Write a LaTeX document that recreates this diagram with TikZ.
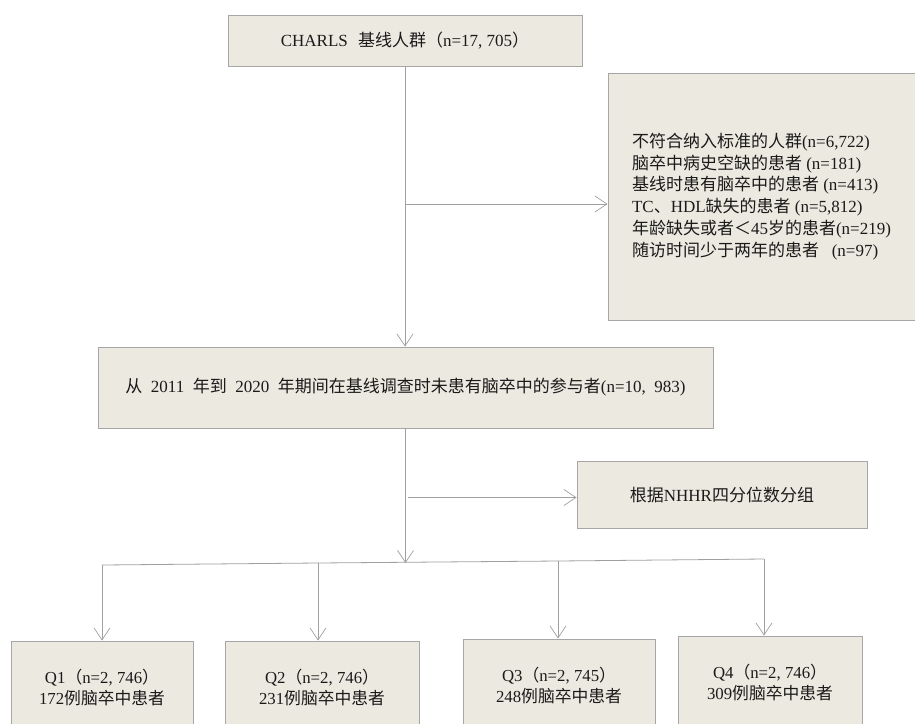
\documentclass[tikz,border=0pt]{standalone}
\usepackage{fontspec}
\setmainfont{Liberation Serif}
\newfontfamily\cjk{Noto Sans CJK SC}
\usetikzlibrary{arrows.meta}
\definecolor{boxfill}{HTML}{ECE9E0}
\definecolor{boxline}{HTML}{A6A6A6}
\definecolor{conn}{HTML}{A0A0A0}
\definecolor{txt}{HTML}{1A1A1A}
\tikzset{
  box/.style={draw=boxline, fill=boxfill, line width=0.9pt, inner sep=0pt, align=center, text=txt},
  conline/.style={draw=conn, line width=0.8pt},
  arr/.style={conline, -{Straight Barb[length=12pt,width=16pt,line width=0.7pt]}},
  bigfont/.style={font=\fontsize{17}{21.8}\selectfont},
  topfont/.style={font=\fontsize{17}{20}\selectfont},
  qfont/.style={font=\fontsize{16.8}{21}\selectfont}
}
\begin{document}
\begin{tikzpicture}[x=1pt,y=-1pt]
\useasboundingbox (0,0) rectangle (915,723);
\clip (0,0) rectangle (915,723);
\fill[white] (0,0) rectangle (915,723);

% boxes
\node[box, topfont, minimum width=354pt, minimum height=51pt] (top) at (405,40.5)
  {CHARLS\hspace{0.6em}{\cjk 基线人群（}n=17, 705{\cjk ）}};

\node[box, bigfont, align=left, minimum width=307pt, minimum height=247pt] (excl) at (761.5,196.5)
  {{\cjk 不符合纳入标准的人群}(n=6,722)\\
   {\cjk 脑卒中病史空缺的患者} (n=181)\\
   {\cjk 基线时患有脑卒中的患者} (n=413)\\
   TC{\cjk 、}HDL{\cjk 缺失的患者} (n=5,812)\\
   {\cjk 年龄缺失或者＜}45{\cjk 岁的患者}(n=219)\\
   {\cjk 随访时间少于两年的患者}\hspace{0.5em} (n=97)};

\node[box, bigfont, minimum width=615pt, minimum height=81pt] (mid) at (405.5,387.5)
  {{\cjk 从}\hspace{0.5em}2011\hspace{0.5em}{\cjk 年到}\hspace{0.5em}2020\hspace{0.5em}{\cjk 年期间在基线调查时未患有脑卒中的参与者}(n=10,\hspace{0.5em}983)};

\node[box, bigfont, minimum width=290pt, minimum height=67pt] (nhhr) at (722,494.5)
  {{\cjk 根据}NHHR{\cjk 四分位数分组}};

\node[box, qfont, minimum width=182pt, minimum height=93pt] (q1) at (102,687.5)
  {Q1{\cjk （}n=2, 746{\cjk ）}\\172{\cjk 例脑卒中患者}};
\node[box, qfont, minimum width=194pt, minimum height=93pt] (q2) at (322,687.5)
  {Q2{\cjk （}n=2, 746{\cjk ）}\\231{\cjk 例脑卒中患者}};
\node[box, qfont, minimum width=192pt, minimum height=94pt] (q3) at (559,686)
  {Q3{\cjk （}n=2, 745{\cjk ）}\\248{\cjk 例脑卒中患者}};
\node[box, qfont, minimum width=184pt, minimum height=93pt] (q4) at (770,682.5)
  {Q4{\cjk （}n=2, 746{\cjk ）}\\309{\cjk 例脑卒中患者}};

% junction coordinates
\coordinate (j1) at (406,204);
\coordinate (j2) at (408,497.5);
\coordinate (j3) at (405.5,563);
\coordinate (d1) at (102,565);
\coordinate (d2) at (318,563);
\coordinate (d3) at (558,561);
\coordinate (d4) at (764,559);

% connectors
\draw[arr] (top.south) -- (top.south |- mid.north);
\draw[arr] (j1) -- (j1 -| excl.west);
\draw[arr] (mid.south) -- (j3);
\draw[arr] (j2) -- (j2 -| nhhr.west);
\draw[conline] (d1) -- (d2) -- (d3) -- (d4);
\draw[arr] (d1) -- (d1 |- q1.north);
\draw[arr] (d2) -- (d2 |- q2.north);
\draw[arr] (d3) -- (d3 |- q3.north);
\draw[arr] (d4) -- (d4 |- q4.north);
\end{tikzpicture}
\end{document}
